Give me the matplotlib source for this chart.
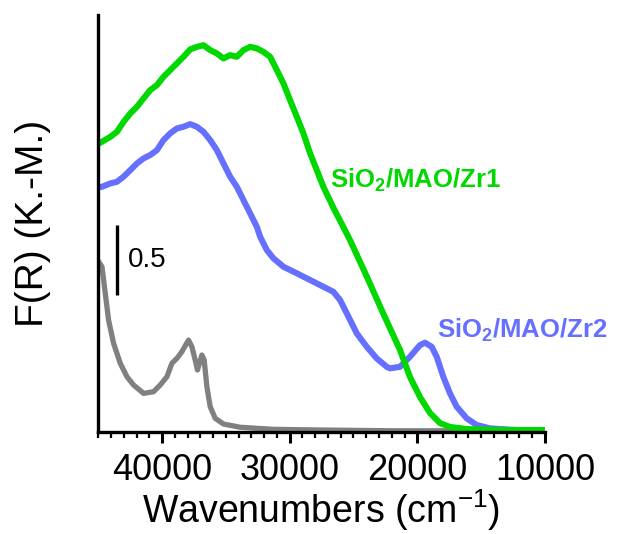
import matplotlib
matplotlib.use("Agg")
import matplotlib.pyplot as plt
from matplotlib.ticker import MultipleLocator

plt.rcParams['font.family'] = ['Liberation Sans', 'DejaVu Sans']

# Zr1 (green)
zr1_wn = [45000, 44710, 44060, 43536, 43019, 42494, 41970, 41453, 40928, 40404,
          39887, 39362, 38838, 38321, 37796, 37272, 36755, 36230, 35706, 35189,
          34664, 34140, 33622, 33098, 32573, 32056, 31532, 31007, 30490, 29966,
          29441, 28924, 28400, 27875, 27358, 26599, 25268, 23937, 22684, 21353,
          20570, 19787, 19004, 18221, 17438, 16107, 13523, 10000]
zr1_fr = [2.06, 2.074, 2.109, 2.145, 2.216, 2.276, 2.324, 2.384, 2.443, 2.479,
          2.538, 2.586, 2.634, 2.681, 2.734, 2.752, 2.764, 2.729, 2.705, 2.669,
          2.693, 2.681, 2.729, 2.752, 2.741, 2.716, 2.681, 2.586, 2.491, 2.371,
          2.252, 2.134, 1.991, 1.871, 1.752, 1.607, 1.371, 1.107, 0.850, 0.586,
          0.393, 0.250, 0.136, 0.064, 0.036, 0.021, 0.014, 0.014]

# Zr2 (blue)
zr2_wn = [45000, 44710, 44060, 43536, 43019, 42494, 41970, 41453, 40928, 40404,
          39887, 39362, 38838, 38321, 37796, 37272, 36755, 36230, 35706, 35189,
          34664, 34140, 33622, 33098, 32573, 32315, 31790, 31274, 30491, 29441,
          28400, 27358, 26576, 26051, 25526, 24743, 23960, 23178, 22394, 22136,
          21353, 20570, 19787, 19396, 18871, 18479, 17963, 17438, 16913, 16130,
          15347, 14306, 12216, 10000]
zr2_fr = [1.75, 1.752, 1.776, 1.788, 1.824, 1.871, 1.919, 1.955, 1.979, 2.014,
          2.086, 2.134, 2.169, 2.181, 2.200, 2.181, 2.145, 2.086, 2.014, 1.919,
          1.824, 1.752, 1.657, 1.562, 1.466, 1.395, 1.300, 1.241, 1.181, 1.134,
          1.086, 1.038, 1.002, 0.943, 0.848, 0.705, 0.609, 0.526, 0.466, 0.455,
          0.466, 0.538, 0.621, 0.638, 0.609, 0.538, 0.395, 0.276, 0.181, 0.098,
          0.050, 0.026, 0.014, 0.014]

# reference sample (gray)
ref_wn = [45000, 44710, 44452, 44193, 43802, 43277, 42753, 42236, 41453, 40670,
          40145, 39621, 39229, 38838, 38446, 37929, 37663, 37405, 37225, 36880,
          36700, 36489, 36230, 35839, 35189, 33881, 31274, 27358, 22136, 10000]
ref_fr = [1.22, 1.181, 0.991, 0.800, 0.634, 0.491, 0.395, 0.336, 0.276, 0.288,
          0.336, 0.395, 0.491, 0.526, 0.574, 0.657, 0.609, 0.514, 0.443, 0.550,
          0.514, 0.324, 0.181, 0.098, 0.057, 0.034, 0.019, 0.014, 0.009, 0.008]

green = '#00d800'
blue = '#6670ff'
gray = '#808080'

fig = plt.figure(figsize=(6.22, 5.34), dpi=100)
ax = fig.add_axes([0.158, 0.191, 0.718, 0.781])

ax.plot(ref_wn, ref_fr, color=gray, lw=3.8, solid_joinstyle='round')
ax.plot(zr2_wn, zr2_fr, color=blue, lw=4.4, solid_joinstyle='round')
ax.plot(zr1_wn, zr1_fr, color=green, lw=4.4, solid_joinstyle='round')

ax.set_xlim(45000, 10000)
ax.set_ylim(0, 2.98)
ax.set_yticks([])
ax.set_xticks([40000, 30000, 20000, 10000])
ax.set_xticklabels(['40000', '30000', '20000', '10000'])
ax.xaxis.set_minor_locator(MultipleLocator(1000))
ax.tick_params(axis='x', which='major', length=8, width=2.2, labelsize=26, pad=7)
ax.tick_params(axis='x', which='minor', length=4.5, width=1.6)

for s in ['top', 'right']:
    ax.spines[s].set_visible(False)
for s in ['left', 'bottom']:
    ax.spines[s].set_linewidth(2.4)

ax.set_xlabel('Wavenumbers (cm$^{\\mathregular{-1}}$)', fontsize=27, labelpad=0)
ax.set_ylabel('F(R) (K.-M.)', fontsize=28, labelpad=34)

# scale bar
ax.plot([43510, 43510], [0.98, 1.48], color='black', lw=2.4, solid_capstyle='butt')
ax.text(42650, 1.23, '0.5', fontsize=20, va='center', ha='left')

ax.text(26830, 1.80, 'SiO$_{\\mathregular{2}}$/MAO/Zr1', color=green, fontsize=18.5,
        fontweight='bold', va='center', ha='left')
ax.text(18460, 0.73, 'SiO$_{\\mathregular{2}}$/MAO/Zr2', color=blue, fontsize=18.5,
        fontweight='bold', va='center', ha='left', clip_on=False)

fig.savefig('out.png', dpi=100)
